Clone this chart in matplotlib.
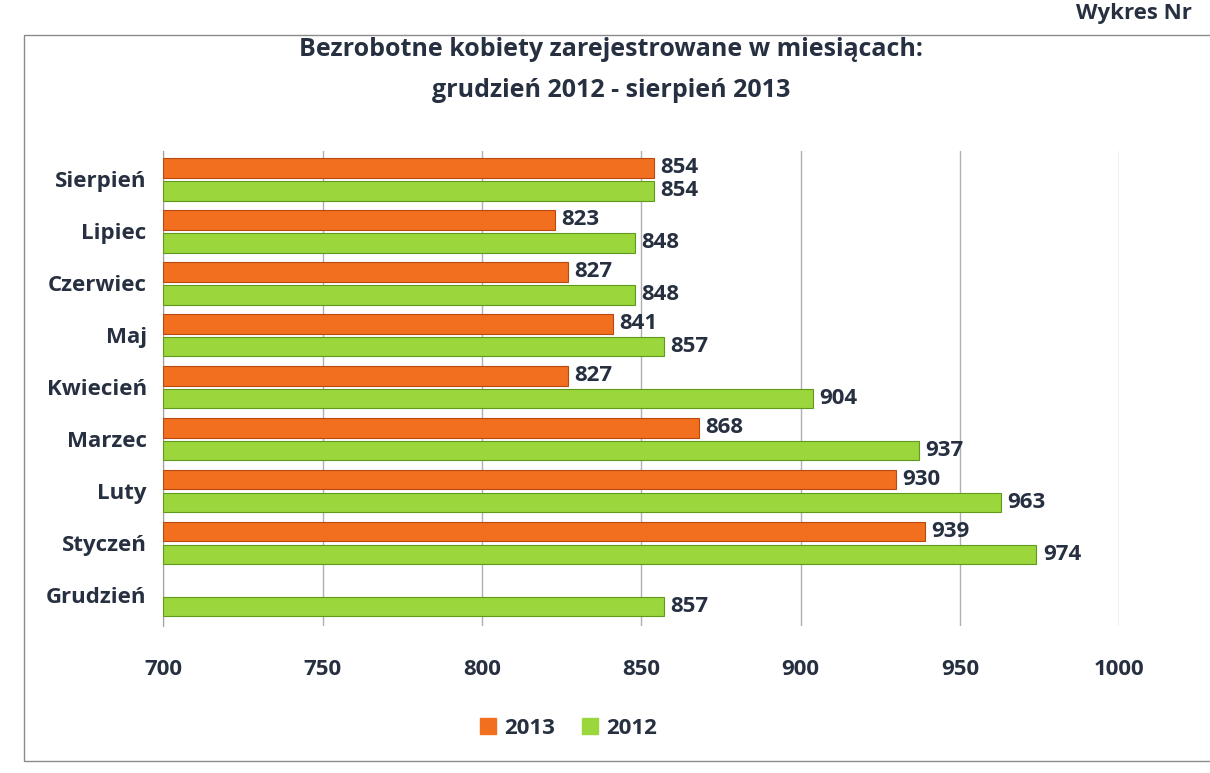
import numpy as np
import matplotlib.pyplot as plt
from matplotlib.patches import Rectangle

plt.rcParams['font.family'] = ['Open Sans', 'DejaVu Sans']

months = ["Sierpień", "Lipiec", "Czerwiec", "Maj", "Kwiecień",
          "Marzec", "Luty", "Styczeń", "Grudzień"]
v2013 = [854, 823, 827, 841, 827, 868, 930, 939, None]
v2012 = [854, 848, 848, 857, 904, 937, 963, 974, 857]
xticks = [700, 750, 800, 850, 900, 950, 1000]

TXT = "#263040"
ORANGE = "#f26f1f"
GREEN = "#9bd63c"

fig = plt.figure(figsize=(12.1, 7.73), dpi=100)
ax = fig.add_axes([0.135, 0.19, 0.79, 0.615])

y = np.arange(len(months))[::-1].astype(float)
off = 0.22
h = 0.38

for yi, a, b in zip(y, v2013, v2012):
    if a is not None:
        ax.barh(yi + off, a - 700, left=700, height=h, color=ORANGE,
                edgecolor="#b84a10", linewidth=0.8, zorder=3)
        ax.text(a + 2, yi + off, str(a), va="center", ha="left",
                fontsize=16, fontweight="bold", color=TXT, zorder=4)
    ax.barh(yi - off, b - 700, left=700, height=h, color=GREEN,
            edgecolor="#5f9a1c", linewidth=0.8, zorder=3)
    ax.text(b + 2, yi - off, str(b), va="center", ha="left",
            fontsize=16, fontweight="bold", color=TXT, zorder=4)

ax.set_xlim(700, 1000)
ax.set_ylim(-0.6, len(months) - 0.45)
ax.set_xticks(xticks)
ax.set_xticklabels([str(t) for t in xticks], fontsize=16,
                   fontweight="bold", color=TXT)
ax.set_yticks(y)
ax.set_yticklabels(months, fontsize=16, fontweight="bold", color=TXT)
ax.tick_params(axis="y", length=0, pad=12)
ax.tick_params(axis="x", length=0, pad=24)
ax.grid(axis="x", color="#b0b0b0", linewidth=1, zorder=0)
for s in ["top", "right", "bottom"]:
    ax.spines[s].set_visible(False)
ax.spines["left"].set_color("#a0a0a0")

fig.suptitle("Bezrobotne kobiety zarejestrowane w miesiącach:\n"
             "grudzień 2012 - sierpień 2013",
             x=0.505, y=0.952, fontsize=18, fontweight="bold", color=TXT,
             linespacing=1.85)

handles = [Rectangle((0, 0), 1, 1, color=ORANGE),
           Rectangle((0, 0), 1, 1, color=GREEN)]
fig.legend(handles, ["2013", "2012"], loc="center",
           bbox_to_anchor=(0.47, 0.058), ncol=2, frameon=False,
           prop={"size": 16, "weight": "bold"}, handlelength=0.7,
           handleheight=0.7, handletextpad=0.4, columnspacing=1.2)
for t in fig.legends[0].get_texts():
    t.set_color(TXT)

fig.text(0.985, 0.982, "Wykres Nr", ha="right", va="center",
         fontsize=16, fontweight="bold", color=TXT)
fig.add_artist(Rectangle((0.02, 0.015), 1.0, 0.94, transform=fig.transFigure,
                         fill=False, edgecolor="#8a8a8a", linewidth=1))

fig.savefig("out.png", dpi=100)
